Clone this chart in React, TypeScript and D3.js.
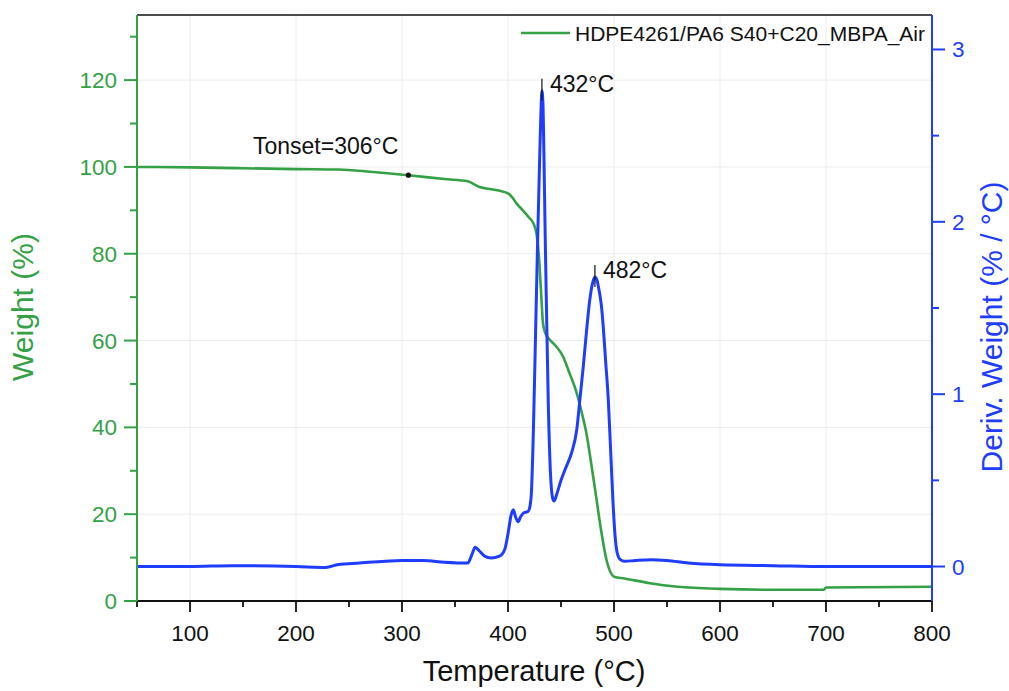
import React from "react";
import * as d3 from "d3";

const tempW = [50, 100, 150, 200, 240, 270, 306, 340, 362, 368, 372, 390, 400, 404, 408, 414, 420, 424, 427, 429, 431, 433, 435, 438, 445, 452, 458, 465, 470, 474, 478, 483.6, 488, 493, 497, 500, 510, 534, 560, 600, 650, 698, 700, 800];
const weight = [100, 99.9, 99.7, 99.5, 99.4, 98.9, 98.1, 97.2, 96.7, 96.0, 95.5, 94.6, 93.9, 93.0, 91.6, 90.0, 88.3, 87.0, 84.5, 80, 72, 64, 61.8, 60.6, 58.8, 56.3, 52.5, 47.8, 43, 38.6, 32.5, 23.3, 16, 9.4, 6.5, 5.6, 5.2, 4.1, 3.3, 2.8, 2.6, 2.6, 3.1, 3.3];

const tempD = [50, 100, 140, 200, 228, 240, 260, 300, 320, 340, 362, 366, 369, 373, 378, 384, 392, 397, 400, 403, 405, 407, 409.5, 412, 414.5, 419, 421, 422, 424, 426, 428, 430, 431, 432, 433, 434, 435, 436, 438, 440, 442, 443.5, 446, 450, 455, 460, 465, 468, 471, 474, 477, 480, 482, 484, 486, 488, 490, 492, 494.6, 497, 499, 501, 503, 506, 510, 520, 535, 550, 570, 600, 650, 700, 800];
const deriv = [0.0, 0.0, 0.005, 0.0, -0.005, 0.012, 0.02, 0.035, 0.035, 0.025, 0.02, 0.07, 0.112, 0.09, 0.06, 0.05, 0.06, 0.1, 0.19, 0.3, 0.33, 0.29, 0.26, 0.29, 0.31, 0.32, 0.36, 0.42, 0.8, 1.35, 1.9, 2.4, 2.62, 2.76, 2.68, 2.35, 1.95, 1.6, 0.95, 0.55, 0.4, 0.38, 0.42, 0.5, 0.58, 0.66, 0.8, 0.98, 1.16, 1.36, 1.54, 1.65, 1.68, 1.66, 1.6, 1.52, 1.38, 1.2, 0.97, 0.65, 0.38, 0.18, 0.08, 0.04, 0.03, 0.035, 0.04, 0.035, 0.02, 0.01, 0.005, 0.0, 0.0];

const xTicks = [100, 200, 300, 400, 500, 600, 700, 800];
const xMinor = [50, 150, 250, 350, 450, 550, 650, 750];
const yLTicks = [0, 20, 40, 60, 80, 100, 120];
const yLMinor = [10, 30, 50, 70, 90, 110, 130];
const yRTicks = [0, 1, 2, 3];
const yRMinor = [0.5, 1.5, 2.5];

const peaks = [
  { t: 432, d: 2.76, label: "432°C" },
  { t: 482, d: 1.68, label: "482°C" },
];
const onset = { t: 306, w: 98.1, label: "Tonset=306°C" };
const legendLabel = "HDPE4261/PA6 S40+C20_MBPA_Air";

const GREEN = "#34a146";
const BLUE = "#1f3dff";
const FONT = "Arial, 'Liberation Sans', sans-serif";

export default function App() {
  const L = 137, R = 932, T = 15, B = 601;
  const x = d3.scaleLinear().domain([50, 800]).range([L, R]);
  const yL = d3.scaleLinear().domain([0, 135]).range([B, T]);
  const yR = d3.scaleLinear().domain([-0.2, 3.2]).range([B, T]);

  const wLine = d3
    .line<number>()
    .x((_, i) => x(tempW[i]))
    .y((v) => yL(v))
    .curve(d3.curveMonotoneX)(weight);
  const dLine = d3
    .line<number>()
    .x((_, i) => x(tempD[i]))
    .y((v) => yR(v))
    .curve(d3.curveMonotoneX)(deriv);

  return (
    <svg
      width={1009}
      height={691}
      style={{ position: "absolute", left: 0, top: 0, background: "#fff" }}
      fontFamily={FONT}
    >
      <rect x={0} y={0} width={1009} height={691} fill="#fff" />
      {/* grid */}
      {xTicks.filter((t) => t < 800).map((t) => (
        <line key={"gx" + t} x1={x(t)} x2={x(t)} y1={T} y2={B} stroke="#ececec" strokeWidth={1} />
      ))}
      {yLTicks.filter((t) => t > 0).map((t) => (
        <line key={"gy" + t} x1={L} x2={R} y1={yL(t)} y2={yL(t)} stroke="#ececec" strokeWidth={1} />
      ))}

      {/* curves */}
      <path d={wLine || ""} fill="none" stroke={GREEN} strokeWidth={2.6} strokeLinejoin="round" />
      <path d={dLine || ""} fill="none" stroke={BLUE} strokeWidth={3} strokeLinejoin="round" />

      {/* top border */}
      <line x1={L} x2={R} y1={T} y2={T} stroke="#111" strokeWidth={1.5} />

      {/* bottom axis */}
      <line x1={L} x2={R} y1={B} y2={B} stroke="#111" strokeWidth={1.8} />
      {xTicks.map((t) => (
        <g key={"xt" + t}>
          <line x1={x(t)} x2={x(t)} y1={B} y2={B + 11} stroke="#111" strokeWidth={1.8} />
          <text x={x(t)} y={641} textAnchor="middle" fontSize={22.5} fill="#111">
            {t}
          </text>
        </g>
      ))}
      {xMinor.map((t) => (
        <line key={"xm" + t} x1={x(t)} x2={x(t)} y1={B} y2={B + 6} stroke="#111" strokeWidth={1.8} />
      ))}
      <text x={534} y={681} textAnchor="middle" fontSize={29} fill="#111">
        Temperature (°C)
      </text>

      {/* left axis */}
      <line x1={L} x2={L} y1={T} y2={B} stroke={GREEN} strokeWidth={2} />
      {yLTicks.map((t) => (
        <g key={"yl" + t}>
          <line x1={L - 13} x2={L} y1={yL(t)} y2={yL(t)} stroke={GREEN} strokeWidth={2} />
          <text x={117} y={yL(t) + 8} textAnchor="end" fontSize={22.5} fill={GREEN}>
            {t}
          </text>
        </g>
      ))}
      {yLMinor.map((t) => (
        <line key={"ylm" + t} x1={L - 7} x2={L} y1={yL(t)} y2={yL(t)} stroke={GREEN} strokeWidth={2} />
      ))}
      <text transform={`translate(33,307) rotate(-90)`} textAnchor="middle" fontSize={30} fill={GREEN}>
        Weight (%)
      </text>

      {/* right axis */}
      <line x1={R} x2={R} y1={T} y2={B} stroke={BLUE} strokeWidth={2} />
      {yRTicks.map((t) => (
        <g key={"yr" + t}>
          <line x1={R} x2={R + 13} y1={yR(t)} y2={yR(t)} stroke={BLUE} strokeWidth={2} />
          <text x={952} y={yR(t) + 8} textAnchor="start" fontSize={22.5} fill={BLUE}>
            {t}
          </text>
        </g>
      ))}
      {yRMinor.map((t) => (
        <line key={"yrm" + t} x1={R} x2={R + 7} y1={yR(t)} y2={yR(t)} stroke={BLUE} strokeWidth={2} />
      ))}
      <text transform={`translate(1002,327) rotate(-90)`} textAnchor="middle" fontSize={30} fill={BLUE}>
        Deriv. Weight (% / °C)
      </text>

      {/* legend */}
      <line x1={521} x2={570} y1={33} y2={33} stroke={GREEN} strokeWidth={2.6} />
      <text x={575} y={41} fontSize={21} fill="#111">
        {legendLabel}
      </text>

      {/* annotations */}
      {peaks.map((p) => (
        <g key={p.label}>
          <line x1={x(p.t)} x2={x(p.t)} y1={yR(p.d) - 12} y2={yR(p.d) + 10} stroke="#111" strokeWidth={1.2} />
          <text x={x(p.t) + 8} y={yR(p.d) + 1} fontSize={23} fill="#111">
            {p.label}
          </text>
        </g>
      ))}
      <circle cx={x(onset.t)} cy={yL(onset.w)} r={2.6} fill="#111" />
      <text x={x(onset.t) - 10} y={yL(onset.w) - 21} textAnchor="end" fontSize={23} fill="#111">
        {onset.label}
      </text>
    </svg>
  );
}
